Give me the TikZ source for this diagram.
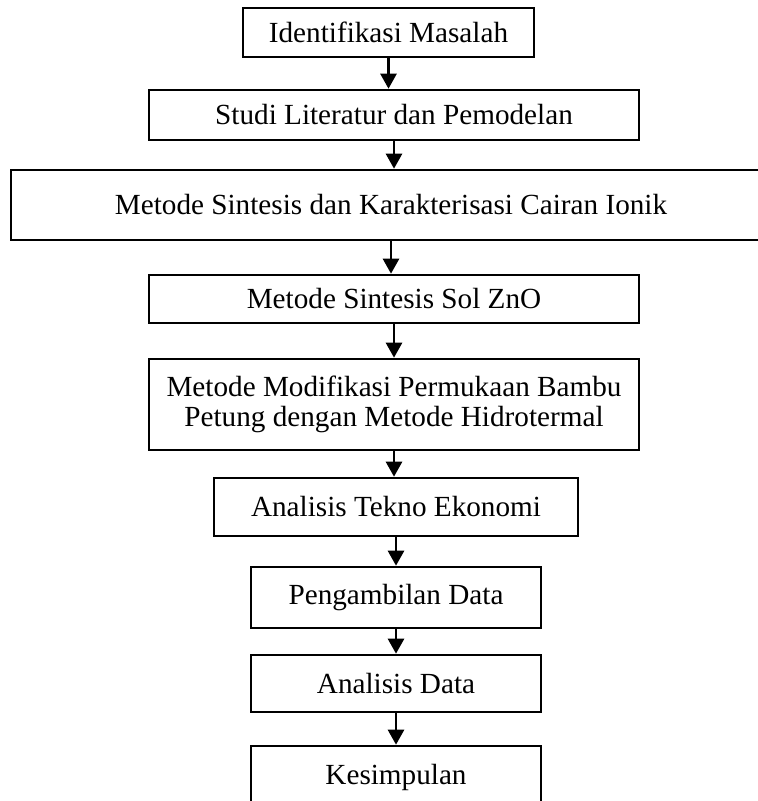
\documentclass[tikz,border=0pt]{standalone}
\usepackage{fontspec}
\setmainfont{Liberation Serif}
\usetikzlibrary{arrows.meta}

\begin{document}
\begin{tikzpicture}[x=.5pt, y=-.5pt,
    box/.style={draw, line width=1.3pt, inner sep=0pt, align=center,
        font=\fontsize{14.6}{15}\selectfont},
    flow/.style={-{Triangle[width=8pt, length=7.5pt]}, line width=1.3pt}]
    \clip (0, 0) rectangle (758, 801);

    \node[box, minimum width=145.5pt, minimum height=24.5pt] (ident) at (388.5, 32.5) {Identifikasi Masalah};
    \node[box, minimum width=245pt, minimum height=25pt] (studi) at (394, 115) {Studi Literatur dan Pemodelan};
    \node[box, minimum width=380pt, minimum height=35pt] (ionik) at (391, 205) {Metode Sintesis dan Karakterisasi Cairan Ionik};
    \node[box, minimum width=245pt, minimum height=24pt] (zno) at (394, 299) {Metode Sintesis Sol ZnO};
    \node[box, minimum width=245pt, minimum height=45.5pt] (bambu) at (394, 404.5) {Metode Modifikasi Permukaan Bambu\\Petung dengan Metode Hidrotermal};
    \node[box, minimum width=182pt, minimum height=29pt] (tekno) at (396, 507) {Analisis Tekno Ekonomi};
    \node[box, minimum width=145pt, minimum height=30.5pt] (ambil) at (396, 597.5) {Pengambilan Data};
    \node[box, minimum width=145pt, minimum height=28.5pt] (analisis) at (396, 683.5) {Analisis Data};
    \node[box, minimum width=145pt, minimum height=31pt] (simpul) at (396, 777) {Kesimpulan};

    \draw[flow] (ident.south) -- (ident.south |- studi.north);
    \draw[flow] (studi.south) -- (studi.south |- ionik.north);
    \draw[flow] (ionik.south) -- (ionik.south |- zno.north);
    \draw[flow] (zno.south) -- (zno.south |- bambu.north);
    \draw[flow] (bambu.south) -- (bambu.south |- tekno.north);
    \draw[flow] (tekno.south) -- (tekno.south |- ambil.north);
    \draw[flow] (ambil.south) -- (ambil.south |- analisis.north);
    \draw[flow] (analisis.south) -- (analisis.south |- simpul.north);
\end{tikzpicture}
\end{document}
